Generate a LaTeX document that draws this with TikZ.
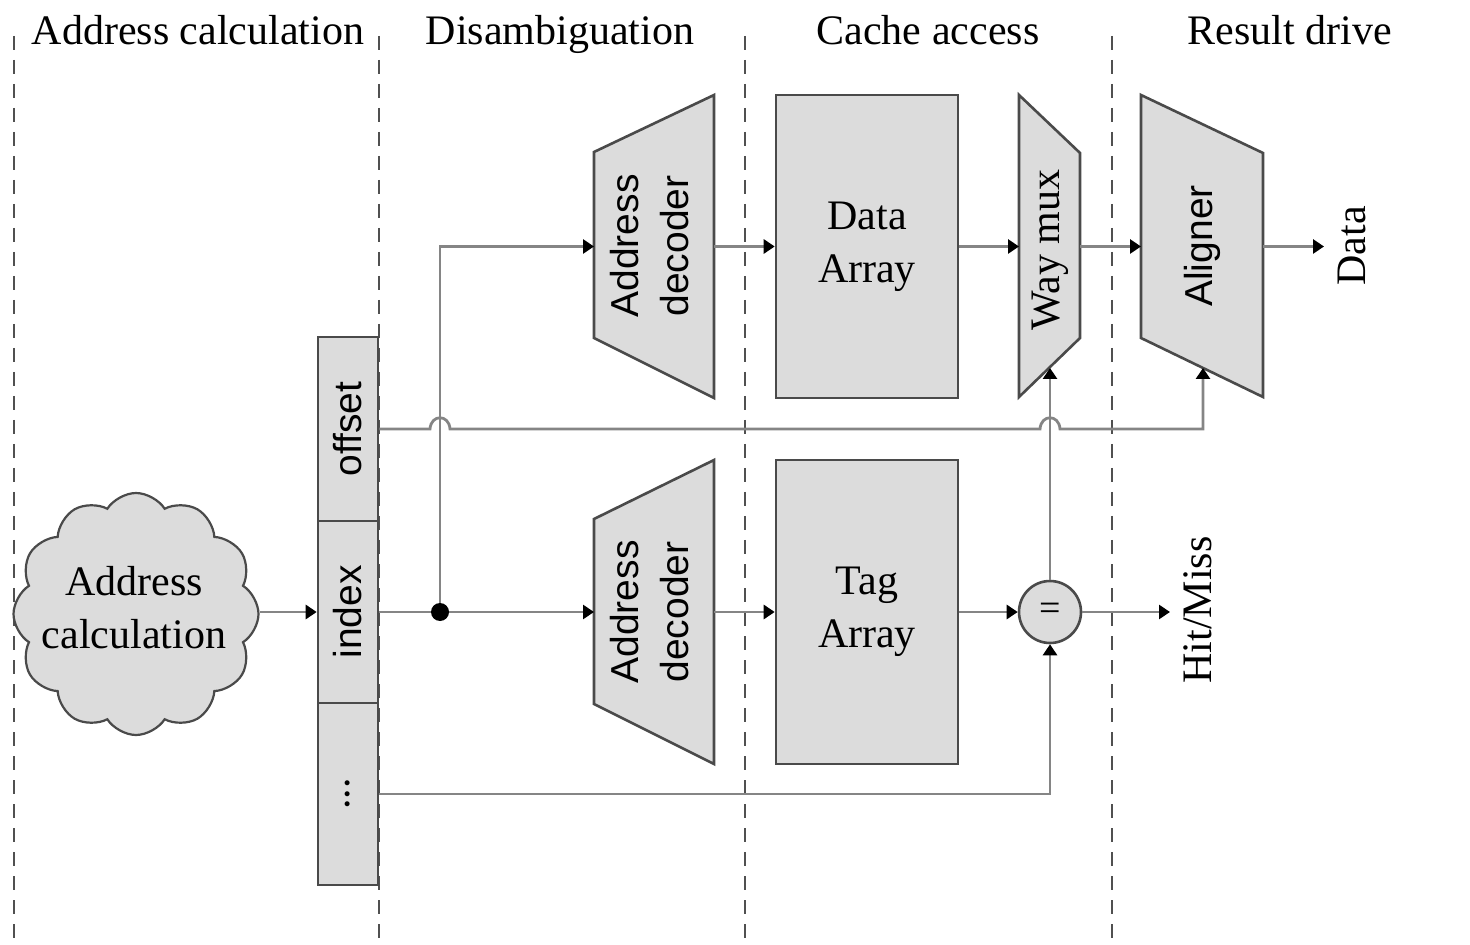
\documentclass[tikz,border=0pt]{standalone}
\usepackage{fontspec}
\setmainfont{Liberation Serif}
\newfontfamily\lsans{Liberation Sans}
\usetikzlibrary{arrows.meta,shapes.symbols}
\definecolor{boxc}{HTML}{4A4A4A}
\definecolor{fillc}{HTML}{DCDCDC}
\definecolor{wirec}{HTML}{858585}
\definecolor{sepc}{HTML}{505050}
\begin{document}
\begin{tikzpicture}[x=0.5pt,y=-0.5pt,
  lbl/.style={font=\fontsize{21}{26.5}\selectfont, align=center, inner sep=0pt},
  slbl/.style={font=\lsans\fontsize{19.5}{27}\selectfont, align=center, inner sep=0pt},
  blk/.style={draw=boxc, fill=fillc, line width=1.3pt},
  wire/.style={draw=wirec, line width=1.4pt},
  arr/.style={wire, -{Triangle[length=5.5pt,width=7pt,color=black,fill=black]}},
  sepline/.style={draw=sepc, line width=0.9pt, dash pattern=on 7pt off 5pt},
]
\useasboundingbox (0,0) rectangle (1470,945);

% stage separators
\foreach \xx/\nm in {14/s1,379/s2,745/s3,1112/s4}{
  \coordinate (\nm t) at (\xx,36);
  \coordinate (\nm b) at (\xx,945);
  \draw[sepline] (\nm t) -- (\nm b);
}

% headers
\node[lbl, anchor=base] (h1) at (198,45) {Address calculation};
\node[lbl, anchor=base] (h2) at (560,45) {Disambiguation};
\node[lbl, anchor=base] (h3) at (928,45) {Cache access};
\node[lbl, anchor=base] (h4) at (1290,45) {Result drive};

% cloud
\node[cloud, cloud puffs=12, cloud puff arc=115, aspect=1.05,
      minimum width=122.5pt, minimum height=121pt, inner sep=0pt,
      draw=boxc, fill=fillc, line width=1.1pt] (cloud) at (136,614) {};
\node[lbl] (cloudtxt) at (134,608) {Address\\calculation};

% address register
\node[blk, slbl, rotate=90, minimum width=92pt, minimum height=30pt] (off) at (348,429) {offset};
\node[blk, slbl, rotate=90, minimum width=91pt, minimum height=30pt] (idx) at (348,612) {index};
\node[blk, lbl, rotate=90, minimum width=91pt, minimum height=30pt] (dts) at (348,794) {...};

% address decoders
\draw[blk] (594,152) -- (714,95) -- (714,398) -- (594,338) -- cycle;
\node[slbl] (ad1) at (653,246) {\rotatebox{90}{\begin{tabular}{@{}c@{}}Address\\[-2pt]decoder\end{tabular}}};
\coordinate (ad1w) at (594,246.5);
\coordinate (ad1e) at (714,246.5);

\draw[blk] (594,519) -- (714,460) -- (714,764) -- (594,704) -- cycle;
\node[slbl] (ad2) at (653,612) {\rotatebox{90}{\begin{tabular}{@{}c@{}}Address\\[-2pt]decoder\end{tabular}}};
\coordinate (ad2w) at (594,612);
\coordinate (ad2e) at (714,612);

% arrays
\node[blk, lbl, minimum width=91pt, minimum height=151.5pt] (da) at (867,246.5) {Data\\Array};
\node[blk, lbl, minimum width=91pt, minimum height=152pt] (ta) at (867,612) {Tag\\Array};

% way mux
\draw[blk] (1019,95) -- (1080,153) -- (1080,338) -- (1019,397) -- cycle;
\node[lbl, rotate=90] (wm) at (1050,250) {Way mux};
\coordinate (wmw) at (1019,246.5);
\coordinate (wme) at (1080,246.5);
\coordinate (wmb) at (1050,368);

% aligner
\draw[blk] (1141,95) -- (1263,153) -- (1263,397) -- (1141,338) -- cycle;
\node[slbl, rotate=90] (al) at (1202,246) {Aligner};
\coordinate (alw) at (1141,246.5);
\coordinate (ale) at (1263,246.5);
\coordinate (alb) at (1203,368);

% comparator
\node[blk, circle, minimum size=31pt, inner sep=0pt, font=\fontsize{19}{19}\selectfont] (eq) at (1050,612) {=};

% outputs
\node[lbl, rotate=90] (dout) at (1352,246) {Data};
\coordinate (douta) at (1324,246.5);
\node[lbl, rotate=90] (hm) at (1198,610) {Hit/Miss};
\coordinate (hma) at (1170,612);

% junction dot
\coordinate (dot) at (440,612);

% connectors
\draw[arr] (cloud.east |- idx) -- (idx.north);
\draw[wire] (idx.south) -- (dot);
\draw[arr] (dot) -- (ad2w);
\draw[arr] (dot) |- (ad1w);
\fill[black] (dot) circle (4.5pt);

\draw[arr] (ad1e) -- (da.west);
\draw[arr] (da.east) -- (wmw);
\draw[arr] (wme) -- (alw);
\draw[arr] (ale) -- (douta);

\draw[arr] (ad2e) -- (ta.west);
\draw[arr] (ta.east) -- (eq.west);
\draw[arr] (eq.east) -- (hma);
\draw[arr] (eq.north) -- (wmb);
\draw[arr] (dts.south) -| (eq.south);

% offset line with hops
\draw[arr] (off.south) -- (430,429) .. controls (431,414) and (449,414) .. (450,429)
  -- (1040,429) .. controls (1041,414) and (1059,414) .. (1060,429)
  -- (1203,429) -- (alb);

\end{tikzpicture}
\end{document}
